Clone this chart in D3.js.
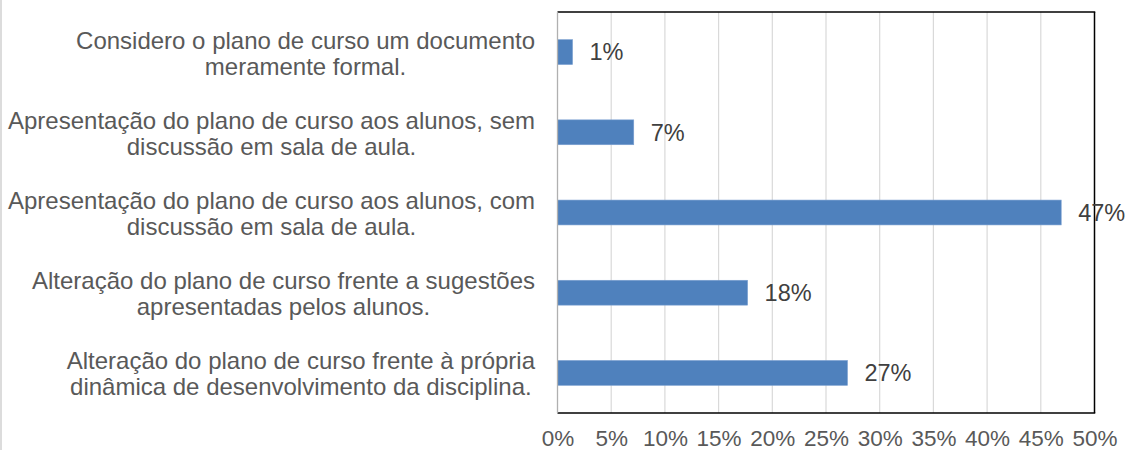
<!DOCTYPE html>
<html><head><meta charset="utf-8">
<script src="https://cdn.jsdelivr.net/npm/d3@7"></script>
<style>body{margin:0;background:#fff;} svg{display:block;}</style>
</head><body>
<svg id="chart" width="1126" height="450"></svg>
<script>
const categories = [
  ["Considero o plano de curso um documento", "meramente formal."],
  ["Apresentação do plano de curso aos alunos, sem", "discussão em sala de aula."],
  ["Apresentação do plano de curso aos alunos, com", "discussão em sala de aula."],
  ["Alteração do plano de curso frente a sugestões", "apresentadas pelos alunos."],
  ["Alteração do plano de curso frente à própria", "dinâmica de desenvolvimento da disciplina."]
];
const values = [1.4, 7.1, 46.9, 17.7, 27.0];
const valueLabels = ["1%", "7%", "47%", "18%", "27%"];
const tickValues = [0, 5, 10, 15, 20, 25, 30, 35, 40, 45, 50];

const svg = d3.select("#chart");
const font = "'Liberation Sans', Arial, sans-serif";
const L = 557.5, R = 1094.5, T = 12, B = 413;

// left image edge line
svg.append("rect").attr("x", 0).attr("y", 0).attr("width", 2).attr("height", 450).attr("fill", "#dcdcdc");

const x = d3.scaleLinear().domain([0, 50]).range([L, R]);
const y = d3.scaleBand().domain(d3.range(categories.length)).range([T, B]).paddingInner(0.69).paddingOuter(0.345);

// gridlines
svg.append("g").selectAll("line").data(tickValues.slice(1, -1)).join("line")
  .attr("x1", d => x(d)).attr("x2", d => x(d)).attr("y1", T).attr("y2", B)
  .attr("stroke", "#d9d9d9").attr("stroke-width", 1.2);

// bars
svg.append("g").selectAll("rect").data(values).join("rect")
  .attr("x", x(0)).attr("y", (d, i) => y(i))
  .attr("width", d => x(d) - x(0)).attr("height", y.bandwidth())
  .attr("fill", "#4f81bd").attr("stroke", "#7a9fd0").attr("stroke-width", 0.6);

// border
svg.append("line").attr("x1", L).attr("x2", R + 0.75).attr("y1", T).attr("y2", T).attr("stroke", "#000").attr("stroke-width", 1.5);
svg.append("line").attr("x1", R).attr("x2", R).attr("y1", T).attr("y2", B).attr("stroke", "#000").attr("stroke-width", 1.5);
svg.append("line").attr("x1", L).attr("x2", R + 0.75).attr("y1", B).attr("y2", B).attr("stroke", "#000").attr("stroke-width", 1.5);
svg.append("line").attr("x1", L).attr("x2", L).attr("y1", T).attr("y2", B).attr("stroke", "#b0b0b0").attr("stroke-width", 1.3);

// value labels
svg.append("g").selectAll("text").data(values).join("text")
  .attr("x", d => x(d) + 17).attr("y", (d, i) => y(i) + y.bandwidth() / 2)
  .attr("dy", "0.35em").attr("font-family", font).attr("font-size", 23.5)
  .attr("fill", "#404040").text((d, i) => valueLabels[i]);

// x axis tick labels
const xAxis = d3.axisBottom(x).tickValues(tickValues).tickSize(0).tickPadding(0).tickFormat(d => d + "%");
const ax = svg.append("g").attr("transform", `translate(0, ${B + 25})`).call(xAxis);
ax.select(".domain").remove();
ax.selectAll("text").attr("font-family", font).attr("font-size", 22.5).attr("fill", "#595959").attr("dy", "0.35em");

// category labels: centered lines, block right-aligned
const rightEdge = 535;
const cat = svg.append("g");
categories.forEach((lines, i) => {
  const g = cat.append("g");
  const cy = y(i) + y.bandwidth() / 2 + 1;
  const texts = lines.map((t, j) => g.append("text")
    .attr("font-family", font).attr("font-size", 24).attr("fill", "#595959")
    .attr("text-anchor", "middle")
    .attr("y", cy + (j - 0.5) * 26).attr("dy", "0.35em").text(t));
  const maxW = d3.max(texts, t => t.node().getComputedTextLength());
  texts.forEach(t => t.attr("x", rightEdge - maxW / 2));
});
</script>
</body></html>
